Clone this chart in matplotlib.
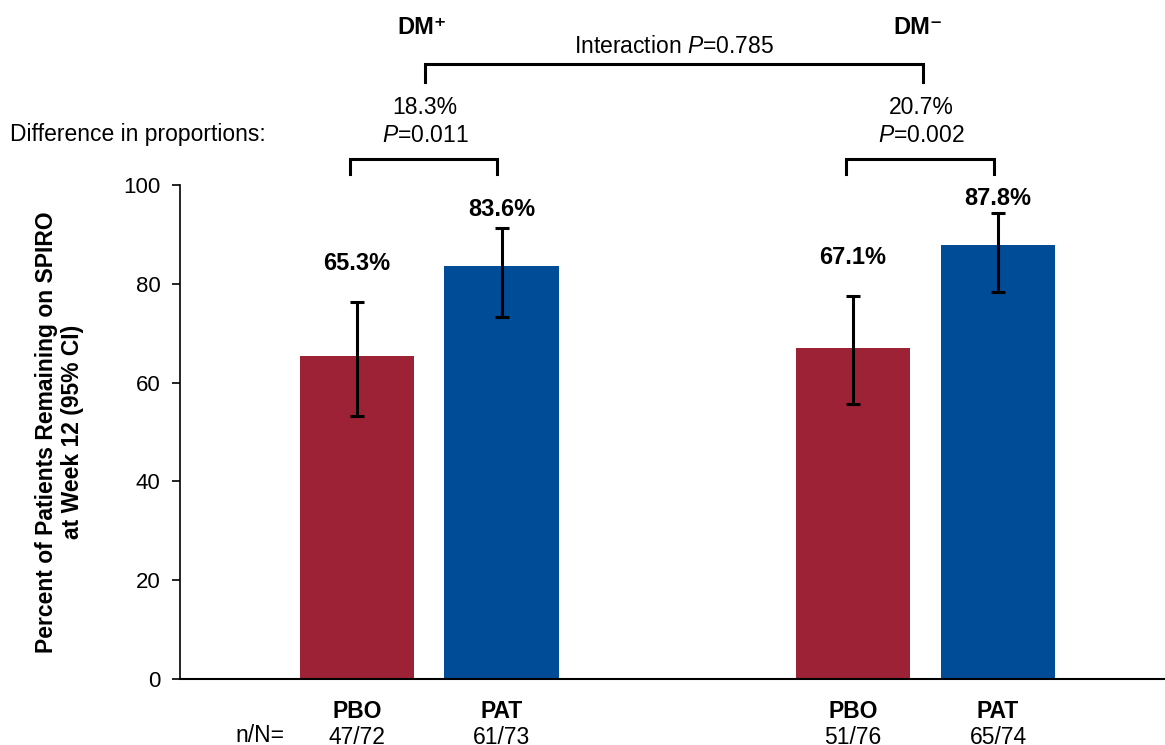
import matplotlib
matplotlib.use("Agg")
import matplotlib.pyplot as plt
import numpy as np

# ---- data ----
groups = ["DM⁺", "DM⁻"]
arms = ["PBO", "PAT", "PBO", "PAT"]
values = [65.3, 83.6, 67.1, 87.8]
ci_low = [53.3, 73.2, 55.7, 78.4]
ci_high = [76.3, 91.3, 77.6, 94.4]
value_labels = ["65.3%", "83.6%", "67.1%", "87.8%"]
label_y = [84.2, 95.1, 85.4, 97.2]
counts = ["47/72", "61/73", "51/76", "65/74"]
diff_labels = ["18.3%", "20.7%"]
diff_p = ["0.011", "0.002"]
interaction_p = "0.785"
yticks = [0, 20, 40, 60, 80, 100]

colors = ["#9E2236", "#004C97", "#9E2236", "#004C97"]
positions = [0.0, 1.0, 3.43, 4.435]

plt.rcParams['font.family'] = ['Liberation Sans', 'DejaVu Sans']
plt.rcParams['mathtext.fontset'] = 'custom'
plt.rcParams['mathtext.rm'] = 'Liberation Sans'
plt.rcParams['mathtext.it'] = 'Liberation Sans:italic'
plt.rcParams['mathtext.bf'] = 'Liberation Sans:bold'

W, H = 1165, 745
fig = plt.figure(figsize=(W / 100, H / 100), dpi=100)
ax = fig.add_axes([180 / W, 1 - 679 / H, (1165 - 180) / W, (679 - 185) / H])

yerr = [np.array(values) - np.array(ci_low), np.array(ci_high) - np.array(values)]
ax.bar(positions, values, width=0.79, color=colors, zorder=2)
ax.errorbar(positions, values, yerr=yerr, fmt='none', ecolor='black',
            elinewidth=2.2, capsize=5, capthick=2.2, zorder=3)

ax.set_ylim(0, 100)
ax.set_xlim(-1.225, 5.59)
ax.set_yticks(yticks)
ax.tick_params(axis='y', labelsize=16, length=6, width=1.2, direction='out', pad=8)
ax.tick_params(axis='x', bottom=False, labelbottom=False)
for s in ['top', 'right']:
    ax.spines[s].set_visible(False)
ax.spines['left'].set_linewidth(1.2)
ax.spines['bottom'].set_linewidth(1.5)

ax.set_ylabel("Percent of Patients Remaining on SPIRO\nat Week 12 (95% CI)",
              fontsize=16.5, fontweight='bold', labelpad=28, linespacing=1.2)

# value labels
for x, ly, t in zip(positions, label_y, value_labels):
    ax.text(x, ly, t, ha='center', va='center', fontsize=17, fontweight='bold', clip_on=False)

tr = ax.get_xaxis_transform()

def ay(py):
    return (679 - py) / 494.0

# arm labels and counts
for x, a, c in zip(positions, arms, counts):
    ax.text(x, ay(711), a, transform=tr, ha='center', va='center', fontsize=16.5, fontweight='bold')
    ax.text(x, ay(738), c, transform=tr, ha='center', va='center', fontsize=16.5)
fig.text(260 / W, 1 - 735 / H, "n/N=", ha='center', va='center', fontsize=16.5)

# per-group brackets and differences
pairs = [(positions[0], positions[1]), (positions[2], positions[3])]
for (x0, x1), g, d, p in zip(pairs, groups, diff_labels, diff_p):
    bl, br = x0 - 0.05, x1 - 0.03
    ax.plot([bl, bl, br, br], [ay(174), ay(159), ay(159), ay(174)], transform=tr,
            color='black', lw=2.2, clip_on=False, solid_joinstyle='miter')
    mid = (x0 + x1) / 2 - 0.03
    ax.text(mid, ay(107), d, transform=tr, ha='center', va='center', fontsize=16.5)
    ax.text(mid, ay(135), "$P$=" + p, transform=tr, ha='center', va='center', fontsize=16.5)
    ax.text(mid - 0.02, ay(27), g, transform=tr, ha='center', va='center', fontsize=17, fontweight='bold')

# interaction bracket
m0 = (pairs[0][0] + pairs[0][1]) / 2 - 0.03
m1 = (pairs[1][0] + pairs[1][1]) / 2 - 0.015
ax.plot([m0, m0, m1, m1], [ay(82), ay(64), ay(64), ay(82)], transform=tr,
        color='black', lw=2.2, clip_on=False, solid_joinstyle='miter')
ax.text((m0 + m1) / 2, ay(46), "Interaction $P$=" + interaction_p, transform=tr,
        ha='center', va='center', fontsize=16.5)

fig.text(10 / W, 1 - 135 / H, "Difference in proportions:", ha='left', va='center', fontsize=16.5)

fig.savefig("out.png", dpi=100)
